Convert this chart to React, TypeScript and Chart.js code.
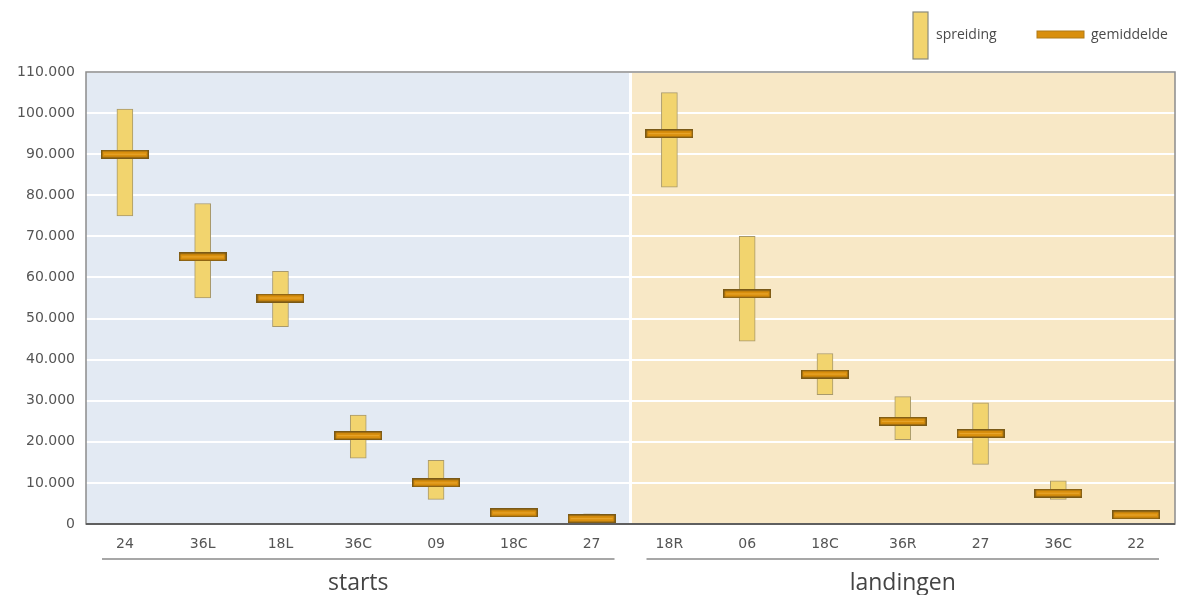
import React, { useEffect, useRef } from "react";
import { Chart, registerables } from "chart.js";

Chart.register(...registerables);

// ---- data ----
const categories = ["24", "36L", "18L", "36C", "09", "18C", "27", "18R", "06", "18C", "36R", "27", "36C", "22"];
const groupNames = ["starts", "landingen"];
const groupSizes = [7, 7];
const rangeMin = [75000, 55000, 48000, 16000, 6000, 2000, 500, 82000, 44500, 31500, 20500, 14500, 6000, 1500];
const rangeMax = [101000, 78000, 61500, 26500, 15500, 3700, 2500, 105000, 70000, 41500, 31000, 29500, 10500, 2800];
const means = [90000, 65000, 55000, 21500, 10000, 2700, 1300, 95000, 56000, 36500, 25000, 22000, 7500, 2200];
const yTickValues = [0, 10000, 20000, 30000, 40000, 50000, 60000, 70000, 80000, 90000, 100000, 110000];
const legendLabels = ["spreiding", "gemiddelde"];

// ---- styles ----
const RANGE_FILL = "#f2d46e";
const RANGE_BORDER = "#a8996c";
const MEAN_FILL = "#d98f0d";
const MEAN_BORDER = "#7a5916";
const PANEL_COLORS = ["#e3eaf3", "#f8e8c6"];
const TICK_FONT = "DejaVu Sans";
const LABEL_FONT = "Open Sans";

function makeMeanGlyph(): HTMLCanvasElement {
  const c = document.createElement("canvas");
  c.width = 48;
  c.height = 9;
  const g = c.getContext("2d")!;
  g.fillStyle = MEAN_BORDER;
  g.fillRect(0, 0, 48, 9);
  g.fillStyle = MEAN_FILL;
  g.fillRect(1.5, 1.5, 45, 6);
  g.fillStyle = "rgba(255,200,90,0.45)";
  g.fillRect(3, 4, 42, 1);
  return c;
}

const fmt = (v: number) => {
  const s = Math.round(v).toString();
  return s.replace(/\B(?=(\d{3})+(?!\d))/g, ".");
};

export default function App() {
  const ref = useRef<HTMLCanvasElement | null>(null);

  useEffect(() => {
    document.body.style.margin = "0";
    const canvas = ref.current!;
    const glyph = makeMeanGlyph();

    const decor = {
      id: "decor",
      beforeDraw(chart: any) {
        const { ctx, chartArea: a, scales } = chart;
        const x = scales.x;
        ctx.save();
        let start = 0;
        const bounds: number[] = [a.left];
        groupSizes.forEach((n, gi) => {
          const end = start + n - 1;
          const right =
            gi === groupSizes.length - 1
              ? a.right
              : (x.getPixelForValue(end) + x.getPixelForValue(end + 1)) / 2;
          bounds.push(right);
          start += n;
        });
        for (let i = 0; i < groupSizes.length; i++) {
          ctx.fillStyle = PANEL_COLORS[i];
          ctx.fillRect(bounds[i], a.top, bounds[i + 1] - bounds[i], a.bottom - a.top);
        }
        ctx.restore();
      },
      beforeDatasetsDraw(chart: any) {
        const { ctx, chartArea: a, scales } = chart;
        const x = scales.x;
        ctx.save();
        // separator
        let start = 0;
        for (let gi = 0; gi < groupSizes.length - 1; gi++) {
          const end = start + groupSizes[gi] - 1;
          const px = (x.getPixelForValue(end) + x.getPixelForValue(end + 1)) / 2;
          ctx.fillStyle = "#ffffff";
          ctx.fillRect(px - 1.5, a.top, 3, a.bottom - a.top);
          start += groupSizes[gi];
        }
        // frame
        ctx.strokeStyle = "#8c8c8c";
        ctx.lineWidth = 1.5;
        ctx.strokeRect(a.left, a.top, a.right - a.left, a.bottom - a.top);
        ctx.restore();
      },
      afterDraw(chart: any) {
        const { ctx, chartArea: a, scales } = chart;
        const x = scales.x;
        ctx.save();
        // bottom axis line
        ctx.strokeStyle = "#5f5f5f";
        ctx.lineWidth = 2;
        ctx.beginPath();
        ctx.moveTo(a.left, a.bottom);
        ctx.lineTo(a.right, a.bottom);
        ctx.stroke();

        // group underlines and labels
        let start = 0;
        const half = (x.getPixelForValue(1) - x.getPixelForValue(0)) / 2;
        groupSizes.forEach((n, gi) => {
          const end = start + n - 1;
          const l = x.getPixelForValue(start) - half + 16;
          const r = x.getPixelForValue(end) + half - 16;
          ctx.strokeStyle = "#8a8a8a";
          ctx.lineWidth = 1.5;
          ctx.beginPath();
          ctx.moveTo(l, a.bottom + 35);
          ctx.lineTo(r, a.bottom + 35);
          ctx.stroke();
          ctx.fillStyle = "#444444";
          ctx.font = `23px "${LABEL_FONT}"`;
          ctx.textAlign = "center";
          ctx.textBaseline = "alphabetic";
          ctx.fillText(groupNames[gi], (x.getPixelForValue(start) + x.getPixelForValue(end)) / 2, a.bottom + 66);
          start += n;
        });

        // legend
        ctx.fillStyle = RANGE_FILL;
        ctx.fillRect(913, 12, 15, 47);
        ctx.strokeStyle = "#8a8a7c";
        ctx.lineWidth = 1.2;
        ctx.strokeRect(913, 12, 15, 47);
        ctx.fillStyle = MEAN_FILL;
        ctx.fillRect(1037, 31, 47, 7);
        ctx.strokeStyle = "#b07a18";
        ctx.lineWidth = 1;
        ctx.strokeRect(1037, 31, 47, 7);
        ctx.fillStyle = "#4a4a4a";
        ctx.font = `14px "${LABEL_FONT}"`;
        ctx.textAlign = "left";
        ctx.textBaseline = "middle";
        ctx.fillText(legendLabels[0], 936, 35);
        ctx.fillText(legendLabels[1], 1091, 35);
        ctx.restore();
      },
    };

    const chart = new Chart(canvas, {
      type: "bar",
      data: {
        labels: categories,
        datasets: [
          {
            type: "line" as any,
            label: legendLabels[1],
            data: means,
            showLine: false,
            pointStyle: glyph as any,
            pointRadius: 10,
            pointHoverRadius: 10,
            order: 0,
          } as any,
          {
            type: "bar",
            label: legendLabels[0],
            data: categories.map((_, i) => [rangeMin[i], rangeMax[i]]) as any,
            backgroundColor: RANGE_FILL,
            borderColor: RANGE_BORDER,
            borderWidth: 1,
            borderSkipped: false,
            barThickness: 16,
            order: 1,
          },
        ],
      },
      options: {
        animation: false,
        responsive: true,
        maintainAspectRatio: false,
        layout: { padding: { top: 72, right: 8, left: 0, bottom: 0 } },
        plugins: {
          legend: { display: false },
          tooltip: { enabled: false },
        },
        scales: {
          x: {
            offset: true,
            grid: { display: false, drawTicks: false },
            border: { display: false },
            ticks: {
              color: "#555555",
              font: { family: TICK_FONT, size: 14 },
              padding: 12,
              autoSkip: false,
              maxRotation: 0,
            },
            afterFit: (s: any) => {
              s.height = 71;
            },
          },
          y: {
            min: 0,
            max: 110000,
            afterBuildTicks: (s: any) => {
              s.ticks = yTickValues.map((v) => ({ value: v }));
            },
            grid: { color: "#ffffff", lineWidth: 2, drawTicks: false },
            border: { display: false },
            ticks: {
              color: "#555555",
              font: { family: TICK_FONT, size: 14 },
              padding: 11,
              callback: (v: any) => fmt(Number(v)),
            },
            afterFit: (s: any) => {
              s.width = 86;
            },
          },
        },
      },
      plugins: [decor],
    });

    return () => chart.destroy();
  }, []);

  return (
    <div style={{ position: "absolute", left: 0, top: 0, width: 1186, height: 595, background: "#ffffff" }}>
      <canvas ref={ref} />
    </div>
  );
}
